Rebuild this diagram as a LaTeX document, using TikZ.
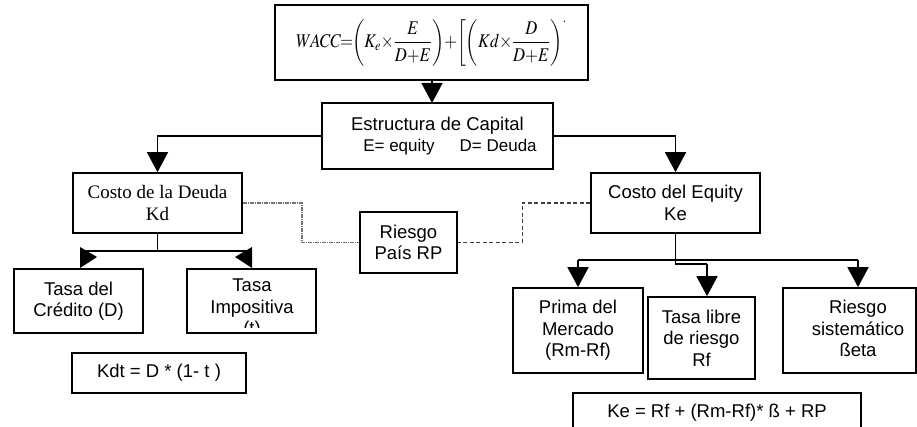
\documentclass[tikz,border=0pt]{standalone}
\usepackage{graphicx}
\usepackage{mathptmx}
\usepackage{fontspec}
\setmainfont{Liberation Sans}
\newfontfamily\tms{Liberation Serif}
\usetikzlibrary{arrows.meta}
\tikzset{
  box/.style={draw, line width=1.7pt, inner sep=0pt, align=center,
    font=\fontsize{18.5}{21.5}\selectfont},
  txt/.style={inner sep=0pt, align=center, font=\fontsize{18.5}{21.5}\selectfont},
  conn/.style={line width=1.7pt},
  arr/.style={conn, -{Triangle[width=21pt,length=20pt]}},
  dsh/.style={line width=1.3pt, draw=black!75, dash pattern=on 4pt off 2.5pt},
  dshdot/.style={line width=1.3pt, draw=black!55, dash pattern=on 4pt off 1pt on 1pt off 1pt},
}
\begin{document}
\begin{tikzpicture}[x=1pt,y=-1pt]
\useasboundingbox (0,0) rectangle (917,427);

% boxes
\node[box, minimum width=313, minimum height=75, font=\fontsize{20}{24}\selectfont] (wacc) at (431.5,42.5)
  {\scalebox{0.83}[0.97]{\medmuskip=0mu\thickmuskip=0mu\thinmuskip=1mu
   $\displaystyle WACC\!=\!\left(K_e\times\frac{E}{D+E}\right)+\left[\left(Kd\times\frac{D}{D+E}\right)\right.^{\!\cdot}$}};
\node[box, minimum width=231, minimum height=66] (est) at (437.5,136)
  {Estructura de Capital\\[-1pt]{\fontsize{17}{20}\selectfont\hspace*{25pt}E= equity\hspace{25pt}D= Deuda}};
\node[box, minimum width=169, minimum height=60, font=\tms\fontsize{19}{22}\selectfont] (cd) at (157.5,203)
  {Costo de la Deuda\\Kd};
\node[box, minimum width=169, minimum height=60] (ce) at (675.5,203)
  {Costo del Equity\\Ke};
\node[box, minimum width=97, minimum height=61] (rp) at (408.5,242.5)
  {Riesgo\\País RP};
\node[box, minimum width=129, minimum height=64] (tc) at (78.5,301)
  {Tasa del\\Crédito (D)};
\node[box, minimum width=129, minimum height=64] (ti) at (251.5,301) {};
\begin{scope}
  \clip (189,271) rectangle (314,327);
  \node[txt] (tit) at (252,309) {Tasa\\Impositiva\\(t)};
\end{scope}
\node[box, minimum width=174, minimum height=40] (kdt) at (159,373)
  {Kdt = D * (1- t )};
\node[box, minimum width=130, minimum height=85] (pm) at (578,330.5)
  {Prima del\\Mercado\\(Rm-Rf)};
\node[box, minimum width=107, minimum height=82] (tl) at (701.5,338)
  {Tasa libre\\de riesgo\\Rf};
\node[box, minimum width=133, minimum height=85] (rs) at (849.5,330.5) {};
\node[txt] (rst) at (858,328.5) {Riesgo\\sistemático\\ßeta};
\node[box, minimum width=288, minimum height=40] (ke) at (717,413)
  {Ke = Rf + (Rm-Rf)* ß + RP};

% connectors
\draw[arr] (wacc.south -| 432,0) -- (432,103);
\draw[arr] (est.west) -| (cd.north);
\draw[arr] (est.east) -| (ce.north);

\draw[dshdot] (cd.east) -- ++(59,0) |- (rp.west);
\draw[dsh] (ce.west) -- ++(-68,0) |- (rp.east);

% Kd branch
\coordinate (kdj) at (157.5,251);
\coordinate (kl) at (80,251);
\coordinate (kr) at (252,251);
\draw[conn] (cd.south) -- (kdj);
\draw[conn] (kl) -- (kr);
\fill (kl) ++(0,-4) -- ++(0,21) -- ++(17,-11) -- cycle;
\fill (kr) ++(0,-4) -- ++(0,21) -- ++(-17,-11) -- cycle;

% Ke branch
\coordinate (pmj) at (578,260);
\coordinate (rsj) at (858,260);
\coordinate (cej) at (675.5,264);
\coordinate (tlj) at (707,264);
\draw[conn] (pmj) -- (rsj);
\draw[conn] (ce.south) -- (cej) -- (tlj);
\draw[arr] (tlj) -- (tlj |- tl.north);
\draw[arr] (pmj) -- (pm.north);
\draw[arr] (rsj) -- (rsj |- rs.north);
\end{tikzpicture}
\end{document}
